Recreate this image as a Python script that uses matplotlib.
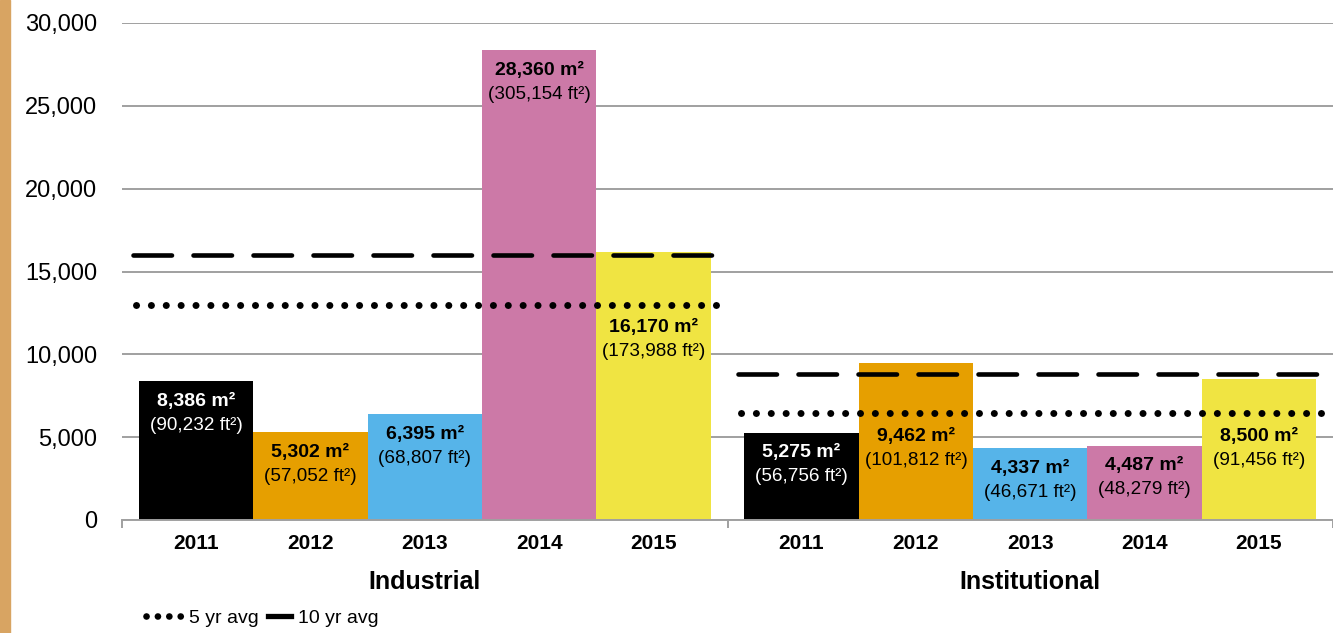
"""Superficie costruita per anno: Industrial vs Institutional, con medie 5 e 10 anni."""

import matplotlib
matplotlib.use("Agg")
import matplotlib.pyplot as plt
from matplotlib.lines import Line2D
from matplotlib.patches import Rectangle
from matplotlib.ticker import FuncFormatter

plt.rcParams["font.family"] = ["Liberation Sans", "DejaVu Sans"]

GRUPPI = ["Industrial", "Institutional"]
ANNI = ["2011", "2012", "2013", "2014", "2015"]
M2 = [[8386, 5302, 6395, 28360, 16170],
      [5275, 9462, 4337, 4487, 8500]]
FT2 = [[90232, 57052, 68807, 305154, 173988],
       [56756, 101812, 46671, 48279, 91456]]
MEDIA5 = [13000, 6450]
MEDIA10 = [16000, 8800]
COLORI = ["#000000", "#E69F00", "#56B4E9", "#CC79A7", "#F0E442"]

W, H, DPI = 1333, 633, 100
PX = 72 / DPI                     # pixel -> punti
UNITA = 610                       # pixel per gruppo
MARGINE = 17 / UNITA              # spazio ai lati delle barre (unità asse)
MARG_LINEE = 11 / UNITA           # le medie partono poco prima delle barre
LARGH = (1 - 2 * MARGINE) / len(ANNI)

fig = plt.figure(figsize=(W / DPI, H / DPI), dpi=DPI)
ax = fig.add_axes([122 / W, 1 - 520 / H, 1 - 122 / W, (520 - 23) / H])
fig.add_artist(Rectangle((0, 0), 10 / W, 1, transform=fig.transFigure,
                         color="#D8A462", zorder=0))

grigio = "#A0A0A0"
ax.set_ylim(0, 30000)
ax.set_xlim(-0.5, (W - 122) / UNITA - 0.5)
ax.yaxis.grid(True, color=grigio, lw=1.4)
ax.set_axisbelow(True)
for s in ["left", "right", "top"]:
    ax.spines[s].set_visible(False)
ax.spines["bottom"].set_color(grigio)
ax.spines["bottom"].set_linewidth(1.4)

ax.set_yticks(range(0, 30001, 5000))
ax.yaxis.set_major_formatter(FuncFormatter(lambda v, _: f"{v:,.0f}"))
ax.tick_params(axis="y", length=0, pad=25 * PX, labelsize=17)

lw10 = 4.6 * PX
lw5 = 7 * PX
centri = []
for g, gruppo in enumerate(GRUPPI):
    x0 = g - 0.5 + MARGINE
    for j, anno in enumerate(ANNI):
        x = x0 + (j + 0.5) * LARGH
        centri.append(x)
        v = M2[g][j]
        ax.bar(x, v, width=LARGH, color=COLORI[j], edgecolor="none", zorder=2)
        # etichetta sotto le medie se la cima della barra ci finisce sopra
        if MEDIA5[g] < v < MEDIA5[g] + 4000:
            ancora, extra = MEDIA5[g], 3
        else:
            ancora, extra = v, 0
        col = "white" if COLORI[j] == "#000000" else "black"
        ax.annotate(f"{v:,} m²", (x, ancora), xytext=(0, -(20 + extra) * PX),
                    textcoords="offset points", ha="center", va="center",
                    fontsize=14, fontweight="bold", color=col, zorder=4)
        ax.annotate(f"({FT2[g][j]:,} ft²)", (x, ancora), xytext=(0, -(44 + extra) * PX),
                    textcoords="offset points", ha="center", va="center",
                    fontsize=13.6, color=col, zorder=4)
    xa, xb = g - 0.5 + MARG_LINEE, g + 0.5 - MARG_LINEE
    ax.plot([xa, xb], [MEDIA10[g]] * 2, color="black", lw=lw10,
            dashes=(38.5 * PX / lw10, 21.5 * PX / lw10), dash_capstyle="round", zorder=3)
    ax.plot([xa + 3 / UNITA, xb], [MEDIA5[g]] * 2, color="black", lw=lw5,
            dashes=(0.01, 14.8 * PX / lw5), dash_capstyle="round", zorder=3)
    ax.text(g, -0.125, gruppo, transform=ax.get_xaxis_transform(), ha="center",
            va="center", fontsize=18, fontweight="bold")

ax.set_xticks(centri)
ax.set_xticklabels(ANNI * len(GRUPPI), fontweight="bold")
ax.tick_params(axis="x", which="major", length=0, pad=14 * PX, labelsize=15)
ax.set_xticks([-0.5, 0.5, 1.5], minor=True)
ax.tick_params(axis="x", which="minor", length=8 * PX, width=1.4, color=grigio)

h5 = Line2D([], [], color="black", lw=4.8, dashes=(0.01, 1.7), dash_capstyle="round")
h10 = Line2D([], [], color="black", lw=3.8)
fig.legend([h5], ["5 yr avg"], loc="center left", bbox_to_anchor=(146 / W, 1 - 618 / H),
           frameon=False, handlelength=1.9, handletextpad=0.3, borderpad=0,
           borderaxespad=0, fontsize=14)
fig.legend([h10], ["10 yr avg"], loc="center left", bbox_to_anchor=(268 / W, 1 - 618 / H),
           frameon=False, handlelength=1.2, handletextpad=0.35, borderpad=0,
           borderaxespad=0, fontsize=14)

fig.savefig("out.png", dpi=DPI)
